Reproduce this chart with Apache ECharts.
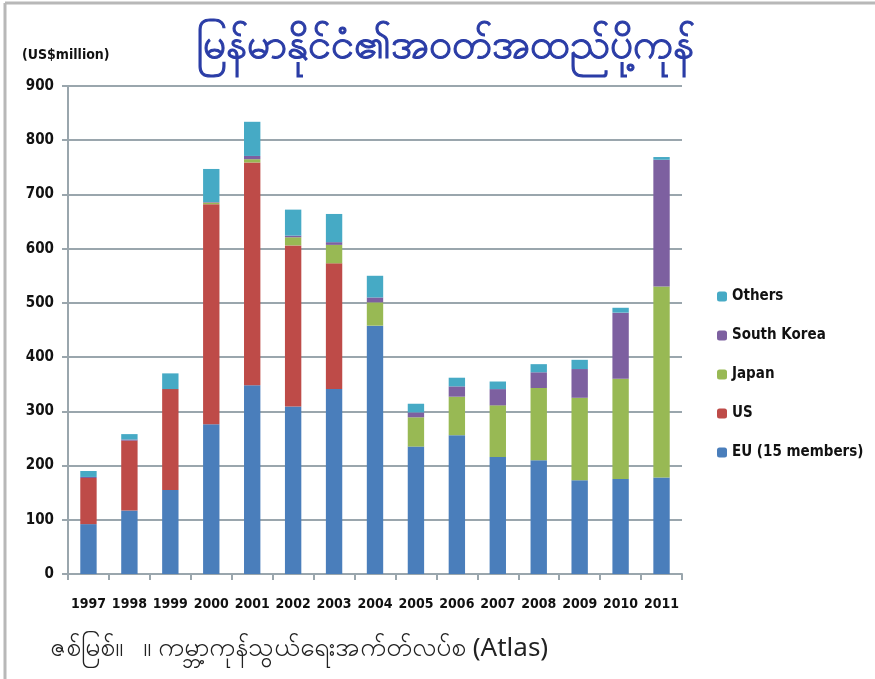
<!DOCTYPE html>
<html>
<head>
<meta charset="utf-8">
<script src="https://cdn.jsdelivr.net/npm/echarts@6/dist/echarts.min.js"></script>
<style>
  html, body { margin: 0; padding: 0; background: #fff; }
  #main { width: 875px; height: 679px; }
</style>
</head>
<body>
<div id="main"></div>
<script>
var years = ['1997', '1998', '1999', '2000', '2001', '2002', '2003', '2004', '2005', '2006', '2007', '2008', '2009', '2010', '2011']
var eu = [92, 117, 155, 276, 348, 309, 341, 458, 235, 256, 216, 210, 173, 175, 178]
var us = [85, 129, 186, 406, 411, 297, 232, 0, 0, 0, 0, 0, 0, 0, 0]
var japan = [0, 0, 0, 3, 6, 15, 34, 43, 54, 71, 95, 133, 152, 185, 352]
var korea = [2, 2, 0, 1, 6, 3, 5, 9, 9, 19, 30, 29, 53, 122, 234]
var others = [11, 10, 29, 61, 63, 48, 52, 40, 16, 16, 14, 15, 17, 9, 5]

var labelFont = '"Liberation Sans Narrow", "DejaVu Sans Condensed", Roboto, sans-serif'

function bar(name, data, color) {
  return {
    name: name,
    type: 'bar',
    stack: 'total',
    barWidth: '40%',
    data: data,
    itemStyle: { color: color }
  }
}

var chart = echarts.init(document.getElementById('main'))
var option = {
  backgroundColor: '#fff',
  animation: false,
  title: {
    text: 'မြန်မာနိုင်ငံ၏အဝတ်အထည်ပို့ကုန်',
    left: 440,
    textAlign: 'center',
    top: 20,
    textStyle: {
      color: '#2a3ca6', fontSize: 42, fontWeight: 'normal', fontFamily: '"Noto Sans", sans-serif',
      textBorderColor: '#2a3ca6', textBorderWidth: 1
    }
  },
  graphic: [
    { type: 'line', shape: { x1: 5, y1: 3, x2: 875, y2: 3 }, style: { stroke: '#b8b8b8', lineWidth: 3 } },
    { type: 'line', shape: { x1: 5, y1: 3, x2: 5, y2: 679 }, style: { stroke: '#b8b8b8', lineWidth: 3 } },
    {
      type: 'text', left: 22, top: 48,
      style: { text: '(US$million)', font: 'bold 14px ' + labelFont, fill: '#111' }
    },
    {
      type: 'text', left: 50, top: 636,
      style: { text: 'ဇစ်မြစ်။   ။ ကမ္ဘာ့ကုန်သွယ်ရေးအက်တ်လပ်စ (Atlas)', font: '26px "Noto Sans", sans-serif', fill: '#222' }
    }
  ],
  legend: {
    orient: 'vertical',
    left: 712,
    top: 284,
    itemWidth: 10,
    itemHeight: 10,
    itemGap: 24,
    data: ['Others', 'South Korea', 'Japan', 'US', 'EU (15 members)'],
    textStyle: { fontSize: 15, fontWeight: 'bold', color: '#111', fontFamily: labelFont }
  },
  grid: { left: 68, right: 193, top: 86, bottom: 105 },
  xAxis: {
    type: 'category',
    data: years,
    axisLine: { lineStyle: { color: '#9aa6ad', width: 2 } },
    axisTick: { show: true, length: 6, lineStyle: { color: '#9aa6ad', width: 2 } },
    axisLabel: { interval: 0, color: '#111', fontWeight: 'bold', fontSize: 14, fontFamily: labelFont, margin: 23 }
  },
  yAxis: {
    type: 'value',
    min: 0,
    max: 900,
    interval: 100,
    axisLine: { show: true, lineStyle: { color: '#9aa6ad', width: 2 } },
    axisTick: { show: true, length: 6, lineStyle: { color: '#9aa6ad', width: 2 } },
    splitLine: { lineStyle: { color: '#9aa6ad', width: 2 } },
    axisLabel: { color: '#111', fontWeight: 'bold', fontSize: 15, fontFamily: labelFont, margin: 14 }
  },
  series: [
    bar('EU (15 members)', eu, '#4a7ebb'),
    bar('US', us, '#be4b48'),
    bar('Japan', japan, '#98b954'),
    bar('South Korea', korea, '#7d60a0'),
    bar('Others', others, '#46aac5')
  ]
}
chart.setOption(option)
</script>
</body>
</html>
